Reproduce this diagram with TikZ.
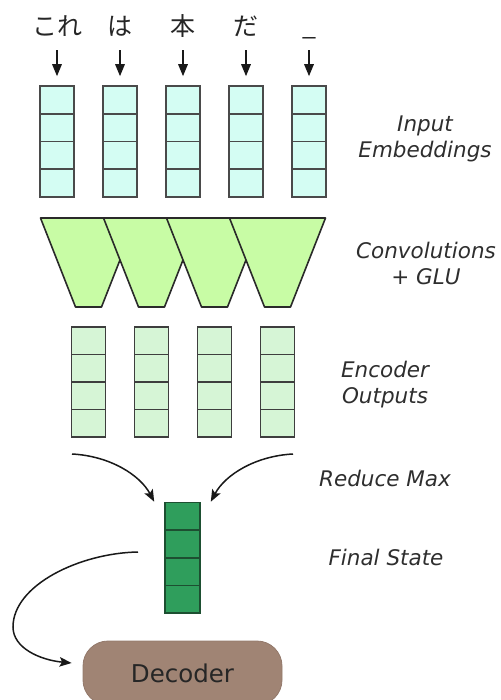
\documentclass[tikz,border=0pt]{standalone}
\usepackage{fontspec}
\setsansfont{DejaVu Sans}
\newfontfamily\jpfont{Noto Sans CJK JP}
\usetikzlibrary{arrows.meta,calc}

\definecolor{embfill}{HTML}{D4FDF3}
\definecolor{embdraw}{HTML}{4A4A4A}
\definecolor{convfill}{HTML}{C8FCA5}
\definecolor{convdraw}{HTML}{2A2A2A}
\definecolor{encfill}{HTML}{D6F5D6}
\definecolor{encdraw}{HTML}{3E3E3E}
\definecolor{statefill}{HTML}{2F9E5C}
\definecolor{statedraw}{HTML}{1D4F31}
\definecolor{decfill}{HTML}{A08474}
\definecolor{labeltext}{HTML}{2E2E2E}

\tikzset{
  word/.style={font=\jpfont\fontsize{25}{25}\selectfont, anchor=base, inner sep=0pt,
    text height=18pt, text depth=4pt, text=black!85},
  cellbox/.style={rectangle, inner sep=0pt, line width=1.6pt, minimum width=34pt},
  embcell/.style={cellbox, draw=embdraw, fill=embfill, minimum height=27.75pt},
  enccell/.style={cellbox, draw=encdraw, fill=encfill, minimum height=27.5pt},
  statecell/.style={cellbox, draw=statedraw, fill=statefill, minimum width=35pt, minimum height=27.6pt},
  convbox/.style={draw=convdraw, fill=convfill, line width=1.6pt, line join=round},
  sidelabel/.style={font=\sffamily\itshape\fontsize{21.5}{26}\selectfont, text=labeltext,
    align=center, inner sep=0pt},
  downarr/.style={-{Triangle[length=12pt,width=9.5pt]}, line width=1.6pt, draw=black!90},
  curvearr/.style={-{Stealth[length=12pt,width=9.5pt,inset=2.5pt]}, line width=1.5pt, draw=black!90},
  decbox/.style={rectangle, rounded corners=25pt, fill=decfill, draw=decfill!92!black,
    line width=0.8pt, minimum width=199pt, minimum height=64pt,
    font=\sffamily\fontsize{24.5}{24.5}\selectfont, text=black!85},
}

\begin{document}
\begin{tikzpicture}[x=1pt, y=-1pt]
\useasboundingbox (0,0) rectangle (500,700);

% input tokens
\foreach \w [count=\i] in {これ,は,本,だ,\_} {
  \node[word] (w\i) at ({57+63*(\i-1)},36) {\w};
}

% input embedding columns
\foreach \i in {1,...,5} {
  \foreach \j in {1,...,4} {
    \node[embcell] (e\i-\j) at ({57+63*(\i-1)},{86+27.75*(\j-0.5)}) {};
  }
  \draw[downarr, shorten <=10pt, shorten >=9pt] (w\i.south) -- (e\i-1.north);
}

% convolution windows: each covers two neighbouring embeddings,
% later windows are drawn over earlier ones
\foreach \k in {1,...,4} {
  \pgfmathsetmacro{\cx}{88.5+63*(\k-1)}
  \coordinate (t\k) at (\cx,262.5);
  \draw[convbox] (\cx-48,218) -- (\cx+48,218) -- (\cx+13,307) -- (\cx-13,307) -- cycle;
}

% encoder output columns
\foreach \k in {1,...,4} {
  \foreach \j in {1,...,4} {
    \node[enccell] (o\k-\j) at ({88.5+63*(\k-1)},{327+27.5*(\j-0.5)}) {};
  }
}

% final state
\foreach \j in {1,...,4} {
  \node[statecell] (s\j) at (182.5,{502.5+27.6*(\j-0.5)}) {};
}

% decoder
\node[decbox] (dec) at (182.5,673) {Decoder};

% reduce-max arrows
\coordinate (rl) at (72,454);
\coordinate (rr) at (293,454);
\draw[curvearr] (rl) .. controls (110,456) and (140,475) .. ([xshift=-10pt]s1.north west);
\draw[curvearr] (rr) .. controls (255,456) and (225,475) .. ([xshift=10pt]s1.north east);

% final state to decoder
\coordinate (fsout) at (138,552);
\coordinate (decin) at ($(dec.west)+(-11,-10)$);
\draw[curvearr] (fsout) .. controls (80,553) and (13,585) .. (13,627)
  .. controls (13,648) and (40,660) .. (decin);

% side labels
\node[sidelabel] (lin) at (425,138.5) {Input\\Embeddings};
\node[sidelabel] (lconv) at (426,263.5) {Convolutions\\+ GLU};
\node[sidelabel] (lenc) at (385,385) {Encoder\\Outputs};
\node[sidelabel, anchor=base] (lred) at (385,486.7) {Reduce Max};
\node[sidelabel, anchor=base] (lfin) at (386,565.7) {Final State};
\end{tikzpicture}
\end{document}
